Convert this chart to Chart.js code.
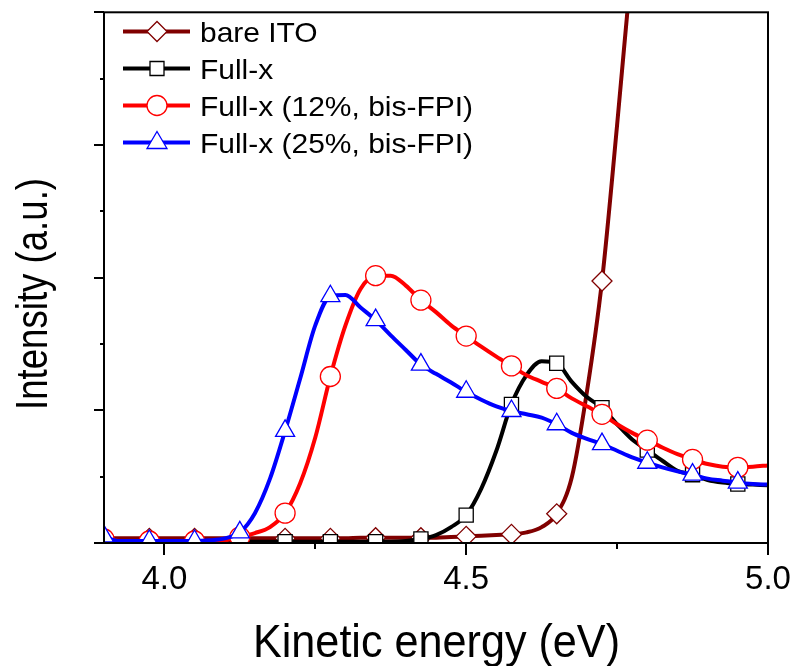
<!DOCTYPE html>
<html>
<head>
<meta charset="utf-8">
<script src="https://cdn.jsdelivr.net/npm/chart.js@4.4.1/dist/chart.umd.min.js"></script>
<style>
  html, body { margin: 0; padding: 0; background: #fff; }
</style>
</head>
<body>
<canvas id="myChart" width="795" height="666"></canvas>
<script>
// kinetic energy (eV), one sample every 0.025 eV; markers every 3rd sample
const energy = [3.9, 3.925, 3.95, 3.975, 4.0, 4.025, 4.05, 4.075, 4.1, 4.125,
  4.15, 4.175, 4.2, 4.225, 4.25, 4.275, 4.3, 4.325, 4.35, 4.375,
  4.4, 4.425, 4.45, 4.475, 4.5, 4.525, 4.55, 4.575, 4.6, 4.625,
  4.65, 4.675, 4.7, 4.725, 4.75, 4.775, 4.8, 4.825, 4.85, 4.875,
  4.9, 4.925, 4.95, 4.975, 5.0];

const bareITO = [0.08, 0.07, 0.07, 0.07, 0.07, 0.07, 0.07, 0.07, 0.07, 0.07,
  0.07, 0.07, 0.07, 0.07, 0.07, 0.07, 0.07, 0.08, 0.08, 0.08,
  0.08, 0.08, 0.08, 0.09, 0.10, 0.11, 0.12, 0.13, 0.16, 0.24,
  0.44, 0.99, 2.28, 3.95, 6.3, 8.8, 11.0];

const fullX = [0.03, 0.02, 0.02, 0.02, 0.02, 0.02, 0.02, 0.02, 0.02, 0.02,
  0.02, 0.02, 0.02, 0.02, 0.02, 0.02, 0.02, 0.02, 0.02, 0.02,
  0.03, 0.06, 0.12, 0.24, 0.42, 0.82, 1.39, 2.09, 2.53, 2.74,
  2.71, 2.43, 2.20, 2.04, 1.79, 1.56, 1.40, 1.24, 1.09, 1.03,
  0.95, 0.91, 0.89, 0.88, 0.87];

const fullX12 = [0.06, 0.03, 0.03, 0.03, 0.03, 0.03, 0.03, 0.03, 0.04, 0.09,
  0.15, 0.24, 0.45, 0.90, 1.59, 2.51, 3.28, 3.83, 4.03, 4.03,
  3.88, 3.66, 3.48, 3.28, 3.12, 2.96, 2.81, 2.67, 2.53, 2.43,
  2.33, 2.18, 2.06, 1.94, 1.79, 1.66, 1.55, 1.44, 1.34, 1.26,
  1.19, 1.15, 1.14, 1.15, 1.17];

const fullX25 = [0.10, 0.03, 0.03, 0.03, 0.03, 0.03, 0.03, 0.04, 0.07, 0.16,
  0.45, 0.97, 1.69, 2.48, 3.28, 3.72, 3.74, 3.55, 3.36, 3.13,
  2.91, 2.69, 2.55, 2.42, 2.28, 2.16, 2.06, 1.99, 1.94, 1.89,
  1.79, 1.66, 1.57, 1.49, 1.39, 1.29, 1.21, 1.14, 1.08, 1.03,
  0.97, 0.94, 0.91, 0.89, 0.88];

const seriesNames = ['bare ITO', 'Full-x', 'Full-x (12%, bis-FPI)', 'Full-x (25%, bis-FPI)'];
const seriesColors = ['#800000', '#000000', '#ff0000', '#0000ff'];
const seriesMarkers = ['rectRot', 'rect', 'circle', 'triangle'];

const xTicks = [4.0, 4.5, 5.0];
const xMinorTicks = [4.25, 4.75];
const yTicks = [0, 1, 2, 3, 4, 5, 6, 7, 8];

const FONT = '"Liberation Sans", Arial, sans-serif';

function pts(vals) {
  return vals.map((v, i) => ({ x: energy[i], y: v }));
}

function makeSet(i, vals, radius, order) {
  return {
    label: seriesNames[i],
    data: pts(vals),
    borderColor: seriesColors[i],
    borderWidth: 4,
    backgroundColor: '#fff',
    pointStyle: seriesMarkers[i],
    pointBackgroundColor: '#fff',
    pointBorderColor: seriesColors[i],
    pointBorderWidth: 1.3,
    pointRadius: c => (c.dataIndex % 3 === 0 ? radius : 0),
    pointHoverRadius: 0,
    cubicInterpolationMode: 'monotone',
    order: order
  };
}

// frame, ticks, axis titles and the line+marker legend
const decorPlugin = {
  id: 'decor',
  afterDatasetsDraw(chart) {
    const { ctx, chartArea: a, scales: { x, y } } = chart;
    ctx.save();
    ctx.strokeStyle = '#000';
    ctx.lineWidth = 2;
    ctx.strokeRect(a.left, a.top, a.right - a.left, a.bottom - a.top);
    ctx.beginPath();
    xTicks.forEach(v => {
      const px = Math.round(x.getPixelForValue(v));
      ctx.moveTo(px, a.bottom); ctx.lineTo(px, a.bottom + 12);
    });
    xMinorTicks.forEach(v => {
      const px = Math.round(x.getPixelForValue(v));
      ctx.moveTo(px, a.bottom); ctx.lineTo(px, a.bottom + 6);
    });
    yTicks.forEach(v => {
      const py = Math.round(y.getPixelForValue(v));
      const len = v % 2 === 0 ? 10 : 4;
      ctx.moveTo(a.left, py); ctx.lineTo(a.left - len, py);
    });
    ctx.stroke();
    ctx.restore();
  },
  afterDraw(chart) {
    const { ctx } = chart;
    ctx.save();
    ctx.fillStyle = '#000';

    // x title
    ctx.font = '46px ' + FONT;
    let t = 'Kinetic energy (eV)';
    let sx = 367 / ctx.measureText(t).width;
    ctx.save();
    ctx.translate(436.5, 657);
    ctx.scale(sx, 1);
    ctx.textAlign = 'center';
    ctx.textBaseline = 'alphabetic';
    ctx.fillText(t, 0, 0);
    ctx.restore();

    // y title
    ctx.font = '44px ' + FONT;
    t = 'Intensity (a.u.)';
    sx = 232 / ctx.measureText(t).width;
    ctx.save();
    ctx.translate(47, 294);
    ctx.rotate(-Math.PI / 2);
    ctx.scale(sx, 1);
    ctx.textAlign = 'center';
    ctx.textBaseline = 'alphabetic';
    ctx.fillText(t, 0, 0);
    ctx.restore();

    // legend
    ctx.font = '28px ' + FONT;
    const lsx = 273 / ctx.measureText(seriesNames[2]).width;
    seriesNames.forEach((name, i) => {
      const yy = 31.5 + i * 37;
      const col = seriesColors[i];
      ctx.strokeStyle = col;
      ctx.lineWidth = 4;
      ctx.beginPath();
      ctx.moveTo(123, yy); ctx.lineTo(190, yy);
      ctx.stroke();
      const cx = 157;
      ctx.fillStyle = '#fff';
      ctx.lineWidth = 1.3;
      ctx.beginPath();
      if (i === 0) {
        ctx.moveTo(cx - 10, yy); ctx.lineTo(cx, yy - 10); ctx.lineTo(cx + 10, yy); ctx.lineTo(cx, yy + 10); ctx.closePath();
      } else if (i === 1) {
        ctx.rect(cx - 7, yy - 7, 14, 14);
      } else if (i === 2) {
        ctx.arc(cx, yy, 10, 0, Math.PI * 2);
      } else {
        ctx.moveTo(cx, yy - 11); ctx.lineTo(cx + 10, yy + 6); ctx.lineTo(cx - 10, yy + 6); ctx.closePath();
      }
      ctx.fill();
      ctx.stroke();
      ctx.fillStyle = '#000';
      ctx.save();
      ctx.translate(200, yy + 10);
      ctx.scale(lsx, 1);
      ctx.textAlign = 'left';
      ctx.textBaseline = 'alphabetic';
      ctx.fillText(name, 0, 0);
      ctx.restore();
    });
    ctx.restore();
  }
};

const ctx = document.getElementById('myChart');

new Chart(ctx, {
  type: 'line',
  data: {
    datasets: [
      makeSet(0, bareITO, 10, 4),
      makeSet(1, fullX, 10, 3),
      makeSet(2, fullX12, 10, 2),
      makeSet(3, fullX25, 11, 1)
    ]
  },
  options: {
    responsive: false,
    animation: false,
    events: [],
    layout: { padding: { top: 7, right: 27, left: 0, bottom: 0 } },
    plugins: { legend: false, tooltip: { enabled: false } },
    scales: {
      x: {
        type: 'linear',
        min: 3.9,
        max: 5.0,
        afterBuildTicks: s => { s.ticks = xTicks.map(v => ({ value: v })); },
        afterFit: s => { s.height = 123; s.paddingLeft = 0; s.paddingRight = 0; },
        grid: { display: false },
        border: { display: false },
        ticks: {
          color: '#000',
          font: { family: FONT, size: 33 },
          padding: 9,
          maxRotation: 0,
          autoSkip: false,
          callback: v => v.toFixed(1)
        }
      },
      y: {
        min: 0,
        max: 8,
        afterFit: s => { s.width = 104; s.paddingTop = 0; s.paddingBottom = 0; },
        grid: { display: false },
        border: { display: false },
        ticks: { display: false }
      }
    }
  },
  plugins: [decorPlugin]
});
</script>
</body>
</html>
